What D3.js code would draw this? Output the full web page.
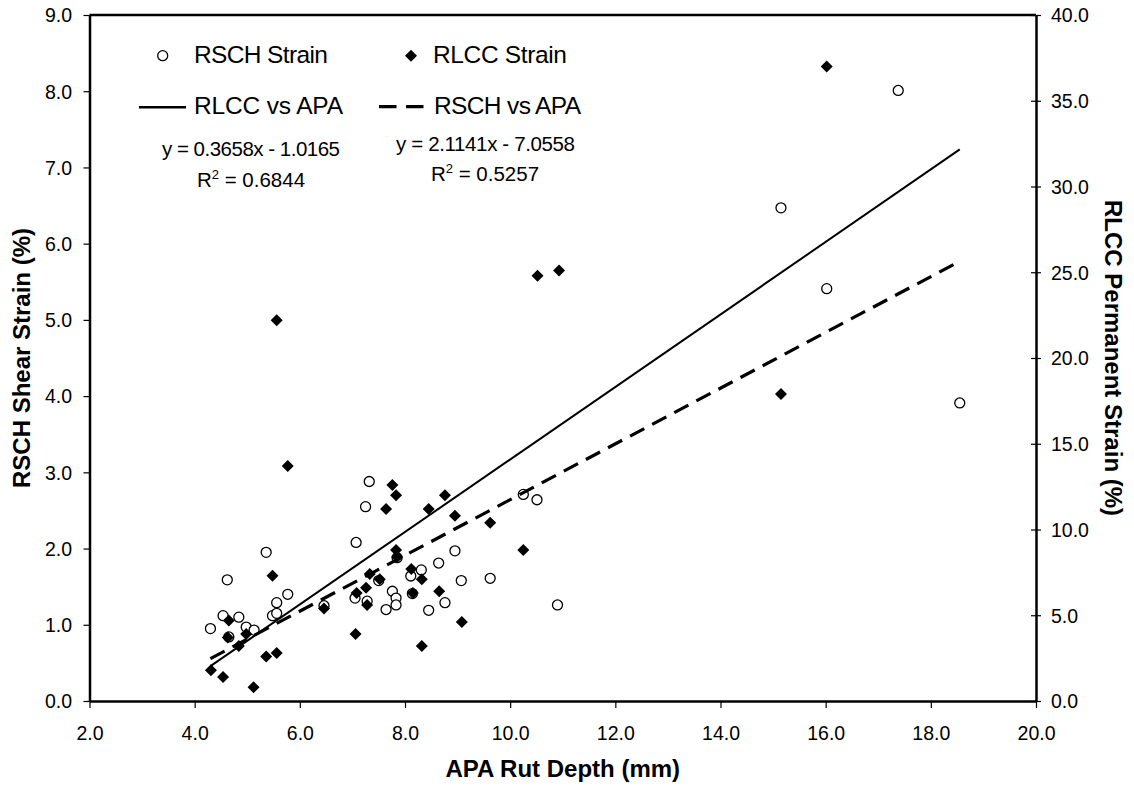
<!DOCTYPE html>
<html>
<head>
<meta charset="utf-8">
<script src="https://cdn.jsdelivr.net/npm/d3@7"></script>
<style>
  body { margin: 0; background: #fff; }
  text { font-family: "Liberation Sans", Arial, sans-serif; fill: #000; }
</style>
</head>
<body>
<svg id="chart" width="1134" height="787"></svg>
<script>
// APA rut depth (mm) and RSCH shear strain (%) -> left axis
const rschX = [4.30, 4.54, 4.62, 4.65, 4.84, 4.98, 5.13, 5.36, 5.48, 5.56, 5.56, 5.77, 6.46, 7.07, 7.05,
  7.32, 7.25, 8.95, 8.64, 7.85, 8.31, 8.11, 9.07, 9.62, 7.50, 7.76, 7.28, 7.83, 7.83, 7.64,
  8.14, 8.76, 8.45, 10.25, 10.51, 10.90, 15.15, 16.02, 17.38, 18.55];
const rschY = [0.95, 1.12, 1.59, 0.84, 1.10, 0.97, 0.93, 1.95, 1.12, 1.29, 1.15, 1.40, 1.25, 2.08, 1.35,
  2.88, 2.55, 1.97, 1.81, 1.88, 1.72, 1.64, 1.58, 1.61, 1.58, 1.44, 1.31, 1.35, 1.26, 1.20,
  1.41, 1.29, 1.19, 2.71, 2.64, 1.26, 6.47, 5.41, 8.01, 3.91];

// APA rut depth (mm) and RLCC permanent strain (%) -> right axis
const rlccX = [4.31, 4.54, 4.65, 4.63, 4.84, 4.98, 5.12, 5.36, 5.48, 5.56, 5.56, 5.77, 6.46, 7.06, 7.08,
  7.76, 7.83, 7.64, 8.76, 8.45, 8.95, 9.62, 7.83, 7.85, 10.25, 7.33, 7.52, 8.12, 8.32, 7.26,
  8.15, 8.65, 7.28, 9.08, 8.32, 10.52, 10.93, 15.15, 16.02];
const rlccY = [1.8, 1.4, 4.7, 3.7, 3.2, 3.9, 0.8, 2.6, 7.3, 2.8, 22.2, 13.7, 5.4, 3.9, 6.3,
  12.6, 12.0, 11.2, 12.0, 11.2, 10.8, 10.4, 8.8, 8.4, 8.8, 7.4, 7.1, 7.7, 7.1, 6.6,
  6.3, 6.4, 5.6, 4.6, 3.2, 24.8, 25.1, 17.9, 37.0];

// trendlines (slope, intercept) over the data range
const trendRange = [4.30, 18.55];
const rlccFit = [2.1141, -7.0558];
const rschFit = [0.3658, -1.0165];

const xTicks = d3.range(2, 20.01, 2);
const yLeftTicks = d3.range(0, 9.01, 1);
const yRightTicks = d3.range(0, 40.01, 5);

const svg = d3.select("#chart");
const plot = { left: 89.5, right: 1036, top: 15, bottom: 701 };

const x = d3.scaleLinear().domain([2, 20]).range([plot.left, plot.right]);
const yL = d3.scaleLinear().domain([0, 9]).range([plot.bottom, plot.top]);
const yR = d3.scaleLinear().domain([0, 40]).range([plot.bottom, plot.top]);
const fmt = d3.format(".1f");

// top border
svg.append("line")
  .attr("x1", plot.left).attr("x2", plot.right)
  .attr("y1", plot.top).attr("y2", plot.top)
  .attr("stroke", "#000").attr("stroke-width", 2.5);

// axes
const gx = svg.append("g")
  .attr("transform", "translate(0," + plot.bottom + ")")
  .call(d3.axisBottom(x).tickValues(xTicks).tickFormat(fmt).tickSize(7).tickSizeOuter(0));
gx.selectAll("text").attr("y", 39).attr("dy", 0);

const gl = svg.append("g")
  .attr("transform", "translate(" + plot.left + ",0)")
  .call(d3.axisLeft(yL).tickValues(yLeftTicks).tickFormat(fmt).tickSize(6).tickSizeOuter(0));
gl.selectAll("text").attr("x", -17.5).attr("dy", "0.35em");

const gr = svg.append("g")
  .attr("transform", "translate(" + plot.right + ",0)")
  .call(d3.axisRight(yR).tickValues(yRightTicks).tickFormat(fmt).tickSize(5).tickSizeOuter(0));
gr.selectAll(".tick line").attr("x1", -5).attr("x2", 5);
gr.selectAll("text").attr("x", 15).attr("dy", "0.35em");

[gx, gl, gr].forEach(g => {
  g.select(".domain").attr("stroke", "#000").attr("stroke-width", 2.5);
  g.selectAll(".tick line").attr("stroke", "#000").attr("stroke-width", 1.2);
  g.selectAll("text").attr("font-family", null).style("font-size", "19.5px");
});

// axis titles
svg.append("text")
  .attr("x", (plot.left + plot.right) / 2).attr("y", 777)
  .attr("text-anchor", "middle")
  .style("font-size", "24px").style("font-weight", "bold")
  .text("APA Rut Depth (mm)");

svg.append("text")
  .attr("transform", "translate(30," + (plot.top + plot.bottom) / 2 + ") rotate(-90)")
  .attr("text-anchor", "middle")
  .style("font-size", "24px").style("font-weight", "bold")
  .text("RSCH Shear Strain (%)");

svg.append("text")
  .attr("transform", "translate(1105," + (plot.top + plot.bottom) / 2 + ") rotate(90)")
  .attr("text-anchor", "middle")
  .style("font-size", "24px").style("font-weight", "bold")
  .text("RLCC Permanent Strain (%)");

// points
const rsch = rschX.map((d, i) => ({ x: d, y: rschY[i] }));
const rlcc = rlccX.map((d, i) => ({ x: d, y: rlccY[i] }));

svg.append("g").selectAll("circle")
  .data(rsch).join("circle")
  .attr("cx", d => x(d.x)).attr("cy", d => yL(d.y))
  .attr("r", 5)
  .attr("fill", "#fff").attr("stroke", "#000").attr("stroke-width", 1.3);

const diamond = d3.symbol(d3.symbolSquare, 72);
svg.append("g").selectAll("path")
  .data(rlcc).join("path")
  .attr("d", diamond)
  .attr("transform", d => "translate(" + x(d.x) + "," + yR(d.y) + ") rotate(45)")
  .attr("fill", "#000");

// trendlines
const line = (fit, yScale) => d3.line()
  .x(d => x(d))
  .y(d => yScale(fit[0] * d + fit[1]));

svg.append("path")
  .attr("d", line(rlccFit, yR)(trendRange))
  .attr("fill", "none").attr("stroke", "#000").attr("stroke-width", 2);

svg.append("path")
  .attr("d", line(rschFit, yL)(trendRange))
  .attr("fill", "none").attr("stroke", "#000").attr("stroke-width", 3.2)
  .attr("stroke-dasharray", "16,9");

// legend
const legend = svg.append("g").style("font-size", "24.5px");
legend.append("circle")
  .attr("cx", 162.7).attr("cy", 55.7).attr("r", 5)
  .attr("fill", "#fff").attr("stroke", "#000").attr("stroke-width", 1.3);
legend.append("text").attr("x", 194).attr("y", 63).attr("textLength", 134).text("RSCH Strain");

legend.append("path")
  .attr("d", diamond)
  .attr("transform", "translate(411,55.7) rotate(45)")
  .attr("fill", "#000");
legend.append("text").attr("x", 433).attr("y", 63).attr("textLength", 134).text("RLCC Strain");

legend.append("line")
  .attr("x1", 139).attr("x2", 186).attr("y1", 107.3).attr("y2", 107.3)
  .attr("stroke", "#000").attr("stroke-width", 2.5);
legend.append("text").attr("x", 194).attr("y", 114).attr("textLength", 149).text("RLCC vs APA");

legend.append("line")
  .attr("x1", 379).attr("x2", 424).attr("y1", 106.7).attr("y2", 106.7)
  .attr("stroke", "#000").attr("stroke-width", 3.3)
  .attr("stroke-dasharray", "17.5,9.5");
legend.append("text").attr("x", 434).attr("y", 114).attr("textLength", 147).text("RSCH vs APA");

// equations
const eq = svg.append("g").style("font-size", "20.5px").attr("text-anchor", "middle");
eq.append("text").attr("x", 251).attr("y", 156).attr("textLength", 178).text("y = 0.3658x - 1.0165");
const r1 = eq.append("text").attr("x", 251).attr("y", 187);
r1.append("tspan").text("R");
r1.append("tspan").attr("dy", -8).style("font-size", "13px").text("2");
r1.append("tspan").attr("dy", 8).text(" = 0.6844");

eq.append("text").attr("x", 485.5).attr("y", 151).attr("textLength", 179).text("y = 2.1141x - 7.0558");
const r2 = eq.append("text").attr("x", 485).attr("y", 181);
r2.append("tspan").text("R");
r2.append("tspan").attr("dy", -8).style("font-size", "13px").text("2");
r2.append("tspan").attr("dy", 8).text(" = 0.5257");
</script>
</body>
</html>
